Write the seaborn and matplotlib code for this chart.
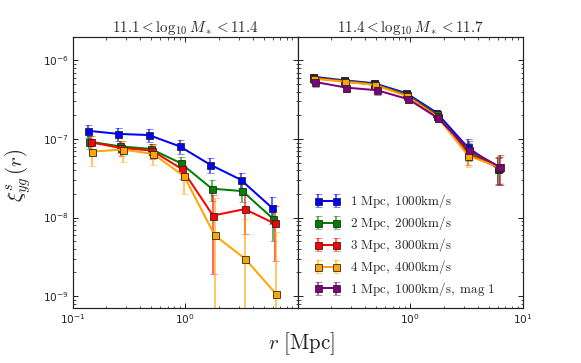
import matplotlib
matplotlib.use("Agg")
import matplotlib.pyplot as plt
from matplotlib.colors import to_rgba
from matplotlib.font_manager import FontProperties
from matplotlib.ticker import LogLocator, NullFormatter
import numpy as np
import seaborn as sns

sns.set_style("ticks")
plt.rcParams['font.family'] = ['DejaVu Sans']
plt.rcParams['xtick.direction'] = 'in'
plt.rcParams['ytick.direction'] = 'in'
plt.rcParams['xtick.top'] = True
plt.rcParams['ytick.right'] = True

# ---- data: left panel 11.1 < log10 M* < 11.4 ----
r_blue_L = [0.138, 0.255, 0.477, 0.897, 1.68, 3.12, 5.96]
r_green_L = [0.141, 0.264, 0.497, 0.916, 1.73, 3.23, 6.03]
r_red_L = [0.145, 0.268, 0.510, 0.941, 1.77, 3.38, 6.24]
r_orange_L = [0.150, 0.279, 0.520, 0.980, 1.83, 3.43, 6.46]

xi_blue_L = [1.27e-7, 1.16e-7, 1.12e-7, 8.05e-8, 4.69e-8, 3.03e-8, 1.32e-8]
xi_green_L = [9.25e-8, 8.05e-8, 7.47e-8, 4.91e-8, 2.33e-8, 2.17e-8, 9.7e-9]
xi_red_L = [9.06e-8, 7.69e-8, 7.11e-8, 4.12e-8, 1.06e-8, 1.28e-8, 8.4e-9]
xi_orange_L = [6.9e-8, 7.33e-8, 6.45e-8, 3.36e-8, 5.97e-9, 2.97e-9, 1.06e-9]

err_blue_L = [2.5e-8, 2.2e-8, 2.0e-8, 1.65e-8, 1.0e-8, 6.4e-9, 5.0e-9]
err_green_L = [1.7e-8, 1.4e-8, 1.2e-8, 9.4e-9, 7.0e-9, 6.0e-9, 4.7e-9]
err_red_L = [1.8e-8, 1.6e-8, 1.5e-8, 1.0e-8, 8.7e-9, 6.6e-9, 5.6e-9]
err_orange_L = [2.4e-8, 2.2e-8, 1.85e-8, 1.35e-8, 1.2e-8, 6.5e-9, 5.5e-9]

# ---- data: right panel 11.4 < log10 M* < 11.7 ----
r_blue_R = [0.136, 0.256, 0.476, 0.925, 1.71, 3.24, 6.06]
r_green_R = [0.137, 0.257, 0.478, 0.927, 1.72, 3.25, 6.09]
r_red_R = [0.138, 0.259, 0.480, 0.929, 1.73, 3.26, 6.12]
r_orange_R = [0.139, 0.261, 0.483, 0.931, 1.75, 3.28, 6.15]
r_purple_R = [0.143, 0.270, 0.506, 0.964, 1.77, 3.32, 6.28]

xi_blue_R = [6.2e-7, 5.58e-7, 5.12e-7, 3.82e-7, 2.17e-7, 7.84e-8, 4.17e-8]
xi_green_R = [6.05e-7, 5.5e-7, 5.0e-7, 3.7e-7, 2.05e-7, 7.0e-8, 4.3e-8]
xi_red_R = [5.95e-7, 5.4e-7, 4.9e-7, 3.6e-7, 1.97e-7, 6.5e-8, 4.3e-8]
xi_orange_R = [5.85e-7, 5.36e-7, 4.87e-7, 3.53e-7, 1.91e-7, 6.1e-8, 4.38e-8]
xi_purple_R = [5.31e-7, 4.5e-7, 4.17e-7, 3.2e-7, 1.84e-7, 7.33e-8, 4.38e-8]

err_blue_R = [6.0e-8, 5.0e-8, 4.5e-8, 3.0e-8, 1.8e-8, 2.0e-8, 1.6e-8]
err_green_R = [6.0e-8, 5.0e-8, 4.5e-8, 3.0e-8, 1.9e-8, 1.8e-8, 1.6e-8]
err_red_R = [6.0e-8, 5.0e-8, 4.5e-8, 3.0e-8, 1.9e-8, 1.8e-8, 1.6e-8]
err_orange_R = [6.0e-8, 5.0e-8, 4.5e-8, 3.0e-8, 2.0e-8, 1.7e-8, 1.6e-8]
err_purple_R = [7.8e-8, 5.9e-8, 5.0e-8, 3.0e-8, 2.0e-8, 2.0e-8, 1.8e-8]

labels = [r'$1\ \mathrm{Mpc},\ 1000\mathrm{km/s}$',
          r'$2\ \mathrm{Mpc},\ 2000\mathrm{km/s}$',
          r'$3\ \mathrm{Mpc},\ 3000\mathrm{km/s}$',
          r'$4\ \mathrm{Mpc},\ 4000\mathrm{km/s}$',
          r'$1\ \mathrm{Mpc},\ 1000\mathrm{km/s},\ \mathrm{mag}\ 1$']
colors = ['#0000ff', '#008000', '#ff0000', '#ffa500', '#800080']
titles = [r'$11.1 < \log_{10} M_* < 11.4$', r'$11.4 < \log_{10} M_* < 11.7$']

left_sets = [(r_blue_L, xi_blue_L, err_blue_L), (r_green_L, xi_green_L, err_green_L),
             (r_red_L, xi_red_L, err_red_L), (r_orange_L, xi_orange_L, err_orange_L)]
right_sets = [(r_blue_R, xi_blue_R, err_blue_R), (r_green_R, xi_green_R, err_green_R),
              (r_red_R, xi_red_R, err_red_R), (r_orange_R, xi_orange_R, err_orange_R),
              (r_purple_R, xi_purple_R, err_purple_R)]

fig = plt.figure(figsize=(581 / 72, 363 / 72), dpi=72)
axes = fig.subplots(1, 2, sharey=True)
fig.subplots_adjust(left=0.1248, right=0.8997, bottom=0.1507, top=0.8989, wspace=0)


def draw(ax, sets):
    for i, (r, xi, err) in enumerate(sets):
        ax.errorbar(r, xi, yerr=err, color=colors[i], ecolor=to_rgba(colors[i], 0.6),
                    lw=2, elinewidth=2, capsize=3.5, capthick=1.5,
                    marker='s', ms=7, mec='#222222', mew=0.8, label=labels[i])


draw(axes[0], left_sets)
draw(axes[1], right_sets)

for k, ax in enumerate(axes):
    ax.set_xscale('log')
    ax.set_yscale('log')
    ax.set_xlim(0.1, 10)
    ax.set_ylim(7e-10, 2e-6)
    ax.set_title(titles[k], fontsize=15, math_fontfamily='cm', pad=4)
    ax.tick_params(which='major', length=5, width=1, labelsize=10.5, direction='in')
    ax.tick_params(which='minor', length=2.5, width=0.8, direction='in')
    ax.yaxis.set_minor_locator(LogLocator(base=10, subs=np.arange(2, 10), numticks=20))
    ax.yaxis.set_minor_formatter(NullFormatter())
    ax.xaxis.set_minor_formatter(NullFormatter())
    for s in ax.spines.values():
        s.set_linewidth(1.2)
        s.set_color('#222222')

axes[0].set_xticks([0.1, 1])
axes[1].set_xticks([1, 10])
axes[1].tick_params(labelleft=False)

axes[0].set_ylabel(r'$\xi^s_{yg}\,(r)$', fontsize=21, math_fontfamily='cm')
axes[0].yaxis.set_label_coords(-0.175, 0.49)
fig.text(0.5196, 0.038, r'$r\ [\mathrm{Mpc}]$', ha='center', fontsize=21, math_fontfamily='cm')

axes[1].legend(loc='lower left', bbox_to_anchor=(0.02, -0.005), frameon=False, numpoints=2,
               handlelength=2.0, handletextpad=0.8, labelspacing=0.3,
               prop=FontProperties(size=13, math_fontfamily='cm'))

plt.savefig('out.png', dpi=72)
